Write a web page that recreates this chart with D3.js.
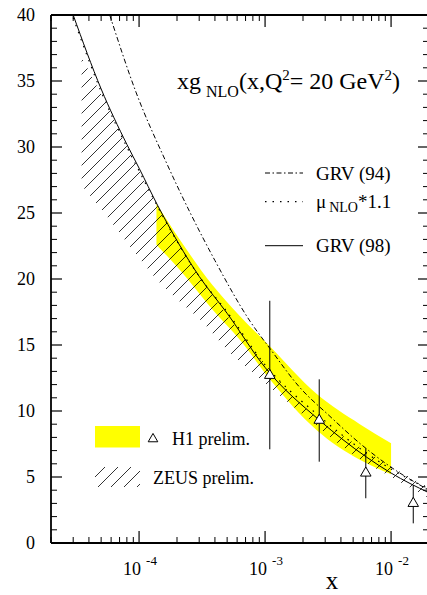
<!DOCTYPE html>
<html><head><meta charset="utf-8">
<script src="https://cdn.jsdelivr.net/npm/d3@7"></script>
<style>body{margin:0;background:#fff;} svg{display:block;} svg text{font-family:'Liberation Serif','Times New Roman','DejaVu Serif',Times,serif;fill:#000;}</style>
</head><body>
<svg id="c" width="427" height="595"></svg>
<script>
// ---- data ----
const grv98X = [3e-5, 5e-5, 8e-5, 1e-4, 1.4e-4, 3e-4, 5e-4, 1e-3, 2.7e-3, 6.4e-3, 1e-2, 0.02];
const grv98Y = [40, 34.4, 30.2, 28.4, 25.6, 20.2, 17.4, 13.3, 9.3, 6.5, 5.3, 3.8];
const grv94X = [5.85e-5, 9.5e-5, 1.65e-4, 4.0e-4, 7.6e-4, 1.09e-3, 1.88e-3, 3.27e-3, 5.65e-3, 9.8e-3, 0.02];
const grv94Y = [40, 34.1, 28.8, 21.4, 16.8, 14.75, 11.8, 9.6, 7.55, 5.8, 4.0];
const muX = [3e-5, 5e-5, 8e-5, 1e-4, 1.4e-4, 3e-4, 5e-4, 1e-3, 2.7e-3, 6.4e-3, 1e-2, 0.02];
const muY = [39.8, 34.2, 30.0, 28.2, 25.5, 20.2, 17.5, 13.5, 9.6, 6.8, 5.6, 4.1];
const zeusX = [3.5e-5, 5e-5, 1e-4, 1.5e-4, 2.1e-4, 3e-4, 5.3e-4, 7.6e-4, 1.9e-3, 5.6e-3, 1e-2, 0.02];
const zeusHi = [36.8, 34.0, 28.2, 25.0, 22.6, 20.2, 16.9, 15.0, 10.6, 7.3, 5.8, 4.2];
const zeusLo = [27.1, 25.3, 21.6, 19.6, 18.3, 17.0, 14.4, 13.1, 9.9, 6.4, 5.0, 3.4];
const h1X = [1.374e-4, 2.1e-4, 3.85e-4, 6.3e-4, 1.09e-3, 2.56e-3, 5.65e-3, 1e-2];
const h1Hi = [25.7, 23.0, 19.5, 17.2, 14.9, 11.3, 9.0, 7.55];
const h1Lo = [22.6, 20.7, 17.65, 15.4, 12.4, 8.56, 6.3, 5.2];
const ptX = [1.09e-3, 2.69e-3, 6.3e-3, 0.015];
const ptY = [12.7, 9.3, 5.3, 3.0];
const ptLo = [7.1, 6.16, 3.39, 1.49];
const ptHi = [18.35, 12.4, 7.17, 4.39];
const yTicks = [0, 5, 10, 15, 20, 25, 30, 35, 40];
const xMajor = [1e-4, 1e-3, 1e-2];
const xExp = ["-4", "-3", "-2"];

// ---- layout ----
const FONT = "'Liberation Serif','Times New Roman','DejaVu Serif',serif";
const L = 51, R = 429, T = 15, B = 543;
const svg = d3.select("#c").attr("font-family", FONT);
const x = d3.scaleLog().domain([2e-5, 0.02]).range([L, R]);
const y = d3.scaleLinear().domain([0, 40]).range([B, T]);

const defs = svg.append("defs");
defs.append("clipPath").attr("id", "plot").append("rect")
  .attr("x", L).attr("y", T).attr("width", R - L).attr("height", B - T);
const pat = defs.append("pattern").attr("id", "hatch").attr("patternUnits", "userSpaceOnUse")
  .attr("width", 13).attr("height", 13);
pat.append("path").attr("d", "M-1,1 l2,-2 M0,13 l13,-13 M12,14 l2,-2")
  .attr("stroke", "#000").attr("stroke-width", 0.8);

const g = svg.append("g").attr("clip-path", "url(#plot)");

// H1 band
const h1 = h1X.map((v, i) => ({x: v, hi: h1Hi[i], lo: h1Lo[i]}));
g.append("path").datum(h1)
  .attr("d", d3.area().x(d => x(d.x)).y0(d => y(d.lo)).y1(d => y(d.hi)).curve(d3.curveMonotoneX))
  .attr("fill", "#ffff00");

// ZEUS band
const zeus = zeusX.map((v, i) => ({x: v, hi: zeusHi[i], lo: zeusLo[i]}));
g.append("path").datum(zeus)
  .attr("d", d3.area().x(d => x(d.x)).y0(d => y(d.lo)).y1(d => y(d.hi)).curve(d3.curveMonotoneX))
  .attr("fill", "url(#hatch)");

const line = d3.line().x(d => x(d[0])).y(d => y(d[1])).curve(d3.curveMonotoneX);
g.append("path").datum(grv94X.map((v, i) => [v, grv94Y[i]]))
  .attr("d", line).attr("fill", "none").attr("stroke", "#000").attr("stroke-width", 1)
  .attr("stroke-dasharray", "5,2.5,1.5,2.5");
g.append("path").datum(muX.map((v, i) => [v, muY[i]]))
  .attr("d", line).attr("fill", "none").attr("stroke", "#000").attr("stroke-width", 1.2)
  .attr("stroke-dasharray", "1.5,6");
g.append("path").datum(grv98X.map((v, i) => [v, grv98Y[i]]))
  .attr("d", line).attr("fill", "none").attr("stroke", "#000").attr("stroke-width", 1);

// H1 points
const tri = d3.symbol().type(d3.symbolTriangle).size(48);
ptX.forEach((v, i) => {
  g.append("line").attr("x1", x(v)).attr("x2", x(v)).attr("y1", y(ptLo[i])).attr("y2", y(ptHi[i]))
    .attr("stroke", "#000").attr("stroke-width", 1);
  g.append("path").attr("d", tri).attr("transform", `translate(${x(v)},${y(ptY[i])})`)
    .attr("fill", "#fff").attr("stroke", "#000").attr("stroke-width", 1);
});

// ---- axes ----
const ax = svg.append("g").attr("stroke", "#000");
ax.append("line").attr("x1", L).attr("x2", R).attr("y1", B).attr("y2", B).attr("stroke-width", 1.8);
ax.append("line").attr("x1", L).attr("x2", R).attr("y1", T).attr("y2", T).attr("stroke-width", 1.8);
ax.append("line").attr("x1", L).attr("x2", L).attr("y1", T).attr("y2", B).attr("stroke-width", 1.8);
ax.append("line").attr("x1", R).attr("x2", R).attr("y1", T).attr("y2", B).attr("stroke-width", 1.8);

// x ticks
const minors = [];
for (let e = -5; e <= -2; e++) for (let m = 2; m <= 9; m++) {
  const v = m * Math.pow(10, e);
  if (v >= 2e-5 * 0.999 && v <= 0.02 * 1.001) minors.push(v);
}
minors.forEach(v => {
  ax.append("line").attr("x1", x(v)).attr("x2", x(v)).attr("y1", B).attr("y2", B - 6).attr("stroke-width", 1);
  ax.append("line").attr("x1", x(v)).attr("x2", x(v)).attr("y1", T).attr("y2", T + 6).attr("stroke-width", 1);
});
xMajor.forEach((v, i) => {
  ax.append("line").attr("x1", x(v)).attr("x2", x(v)).attr("y1", B).attr("y2", B - 12).attr("stroke-width", 1.2);
  ax.append("line").attr("x1", x(v)).attr("x2", x(v)).attr("y1", T).attr("y2", T + 12).attr("stroke-width", 1.2);
  const t = svg.append("text").attr("x", x(v) - 16).attr("y", 575).attr("font-size", 18);
  t.append("tspan").text("10");
  t.append("tspan").attr("dx", 5).attr("dy", -10).attr("font-size", 13).text(xExp[i]);
});
svg.append("text").attr("x", 332).attr("y", 589).attr("font-size", 25).attr("text-anchor", "middle").text("x");

// y ticks
for (let v = 0; v <= 40; v++) {
  const major = v % 5 === 0;
  const len = major ? 11 : 6;
  ax.append("line").attr("x1", L).attr("x2", L + len).attr("y1", y(v)).attr("y2", y(v)).attr("stroke-width", major ? 1.2 : 1);
  ax.append("line").attr("x1", R).attr("x2", R - len).attr("y1", y(v)).attr("y2", y(v)).attr("stroke-width", major ? 1.2 : 1);
}
yTicks.forEach(v => {
  svg.append("text").attr("x", 35).attr("y", y(v) + 6).attr("font-size", 18).attr("text-anchor", "end").text(v);
});

// ---- title ----
const tt = svg.append("text").attr("x", 177).attr("y", 89).attr("font-size", 24);
tt.append("tspan").text("xg");
tt.append("tspan").attr("dx", 5).attr("dy", 8).attr("font-size", 16).text("NLO");
tt.append("tspan").attr("dy", -8).text("(x,Q");
tt.append("tspan").attr("dy", -9).attr("font-size", 15).text("2");
tt.append("tspan").attr("dy", 9).text("= 20 GeV");
tt.append("tspan").attr("dy", -9).attr("font-size", 15).text("2");
tt.append("tspan").attr("dy", 9).text(")");

// ---- legend (lines) ----
const leg = [
  {yy: 173, dash: "5,2.5,1.5,2.5", w: 1},
  {yy: 201.7, dash: "1.5,6", w: 1.2},
  {yy: 245.7, dash: null, w: 1}
];
leg.forEach(d => {
  const l = svg.append("line").attr("x1", 265).attr("x2", 303).attr("y1", d.yy).attr("y2", d.yy)
    .attr("stroke", "#000").attr("stroke-width", d.w);
  if (d.dash) l.attr("stroke-dasharray", d.dash);
});
svg.append("text").attr("x", 316).attr("y", 180).attr("font-size", 19).text("GRV (94)");
const mt = svg.append("text").attr("x", 316).attr("y", 208).attr("font-size", 19);
mt.append("tspan").text("μ");
mt.append("tspan").attr("dx", 3).attr("dy", 4).attr("font-size", 14).text("NLO");
mt.append("tspan").attr("dy", -4).text("*1.1");
svg.append("text").attr("x", 316).attr("y", 252).attr("font-size", 19).text("GRV (98)");

// ---- legend (bands) ----
svg.append("rect").attr("x", 95).attr("y", 426).attr("width", 45).attr("height", 21.5).attr("fill", "#ffff00");
svg.append("path").attr("d", d3.symbol().type(d3.symbolTriangle).size(40))
  .attr("transform", "translate(153,439)").attr("fill", "#fff").attr("stroke", "#000").attr("stroke-width", 1);
svg.append("text").attr("x", 172).attr("y", 445).attr("font-size", 18).text("H1 prelim.");
svg.append("rect").attr("x", 95).attr("y", 467).attr("width", 45).attr("height", 20).attr("fill", "url(#hatch)");
svg.append("text").attr("x", 153).attr("y", 484).attr("font-size", 18).text("ZEUS prelim.");
</script>
</body></html>
